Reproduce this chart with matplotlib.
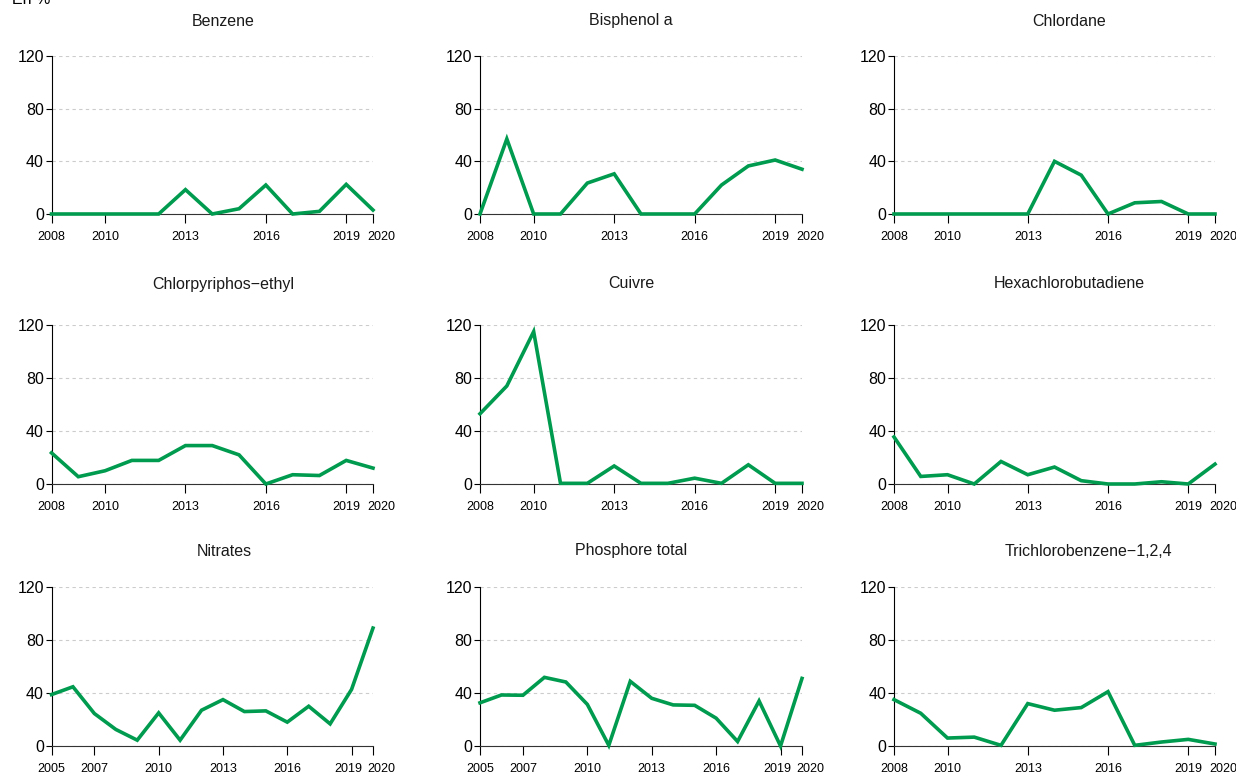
import matplotlib
matplotlib.use('Agg')
import matplotlib.pyplot as plt
import matplotlib.transforms as mtransforms

plt.rcParams['font.family'] = ['Liberation Sans', 'DejaVu Sans']

# years
years_08 = list(range(2008, 2021))
years_05 = list(range(2005, 2021))

# values in %
benzene = [0, 0, 0, 0, 0, 18.5, 0, 4, 22, 0, 2, 22.5, 3]
bisphenol = [0, 57, 0, 0, 23.5, 30.5, 0, 0, 0, 22, 36.5, 41, 34]
chlordane = [0, 0, 0, 0, 0, 0, 40, 29.5, 0, 8.5, 9.5, 0, 0]
chlorpyriphos = [23.5, 5.5, 10, 17.8, 17.8, 29, 29, 22, 0, 7, 6.4, 17.8, 12]
cuivre = [53, 74, 115, 0.5, 0.5, 13.6, 0.5, 0.5, 4.4, 0.5, 14.5, 0.5, 0.5]
hexachloro = [35.5, 5.7, 7, 0, 17, 7, 12.8, 2.5, 0, 0, 1.7, 0, 15]
nitrates = [38.8, 44.7, 24.5, 12.5, 4.4, 25, 4.4, 27, 35, 26, 26.5, 18, 30, 16.7, 42.7, 89]
phosphore = [32.6, 38.5, 38.3, 51.8, 48.3, 31.4, 0.5, 48.8, 36, 31, 30.7, 21, 3.4, 34, 0, 51]
trichloro = [35, 24.7, 6, 6.7, 0.5, 32, 27, 29, 41, 0.5, 3, 5, 1.5]

titles = ['Benzene', 'Bisphenol a', 'Chlordane',
          'Chlorpyriphos\u2212ethyl', 'Cuivre', 'Hexachlorobutadiene',
          'Nitrates', 'Phosphore total', 'Trichlorobenzene\u22121,2,4']
series = [benzene, bisphenol, chlordane, chlorpyriphos, cuivre, hexachloro,
          nitrates, phosphore, trichloro]
xs = [years_08] * 6 + [years_05, years_05, years_08]
ticks_08 = [2008, 2010, 2013, 2016, 2019, 2020]
ticks_05 = [2005, 2007, 2010, 2013, 2016, 2019, 2020]
xticks = [ticks_08] * 6 + [ticks_05, ticks_05, ticks_08]

W, H = 1236, 775
col_left = [51.5, 480, 894]
col_right = [373, 802, 1215]
row_top = [56, 325, 587]
row_bot = [214, 484, 746]
title_x = [223, 631, 1069, 223, 631, 1069, 224, 631, 1088]
title_y = [21, 284, 551]

green = '#009B4E'

fig = plt.figure(figsize=(W / 100, H / 100), dpi=100)

for i in range(9):
    r, c = divmod(i, 3)
    ax = fig.add_axes((col_left[c] / W, 1 - row_bot[r] / H,
                       (col_right[c] - col_left[c]) / W,
                       (row_bot[r] - row_top[r]) / H))
    ax.plot(xs[i], series[i], color=green, lw=2.6, clip_on=False,
            solid_joinstyle='miter', zorder=5)
    ax.set_xlim(xs[i][0], 2020)
    ax.set_ylim(0, 120)
    ax.set_yticks([0, 40, 80, 120])
    ax.set_xticks(xticks[i])
    ax.set_xticklabels([str(t) for t in xticks[i]], fontsize=9)
    ax.tick_params(axis='y', labelsize=11.5, length=4, width=0.8, pad=1.5)
    ax.tick_params(axis='x', length=6.5, width=0.8, pad=6)
    ax.grid(axis='y', color='#cccccc', ls=(0, (3, 3)), lw=0.8)
    ax.set_axisbelow(True)
    for s in ['top', 'right']:
        ax.spines[s].set_visible(False)
    ax.spines['left'].set_linewidth(0.8)
    ax.spines['bottom'].set_linewidth(0.8)
    ax.spines['bottom'].set_color('#333333')

    # nudge the last labels apart like the original
    labels = ax.get_xticklabels()
    labels[-1].set_transform(labels[-1].get_transform() +
                             mtransforms.ScaledTranslation(8 / 100, 0, fig.dpi_scale_trans))
    if xs[i][0] == 2005:
        labels[-2].set_transform(labels[-2].get_transform() +
                                 mtransforms.ScaledTranslation(-3 / 100, 0, fig.dpi_scale_trans))

    fig.text(title_x[i] / W, 1 - title_y[r] / H, titles[i],
             ha='center', va='center', fontsize=11.5, color='#1a1a1a')

fig.text(12 / W, 1 - 4 / H, 'En %', ha='left', va='baseline', fontsize=11.5)

fig.savefig('out.png', dpi=100)
